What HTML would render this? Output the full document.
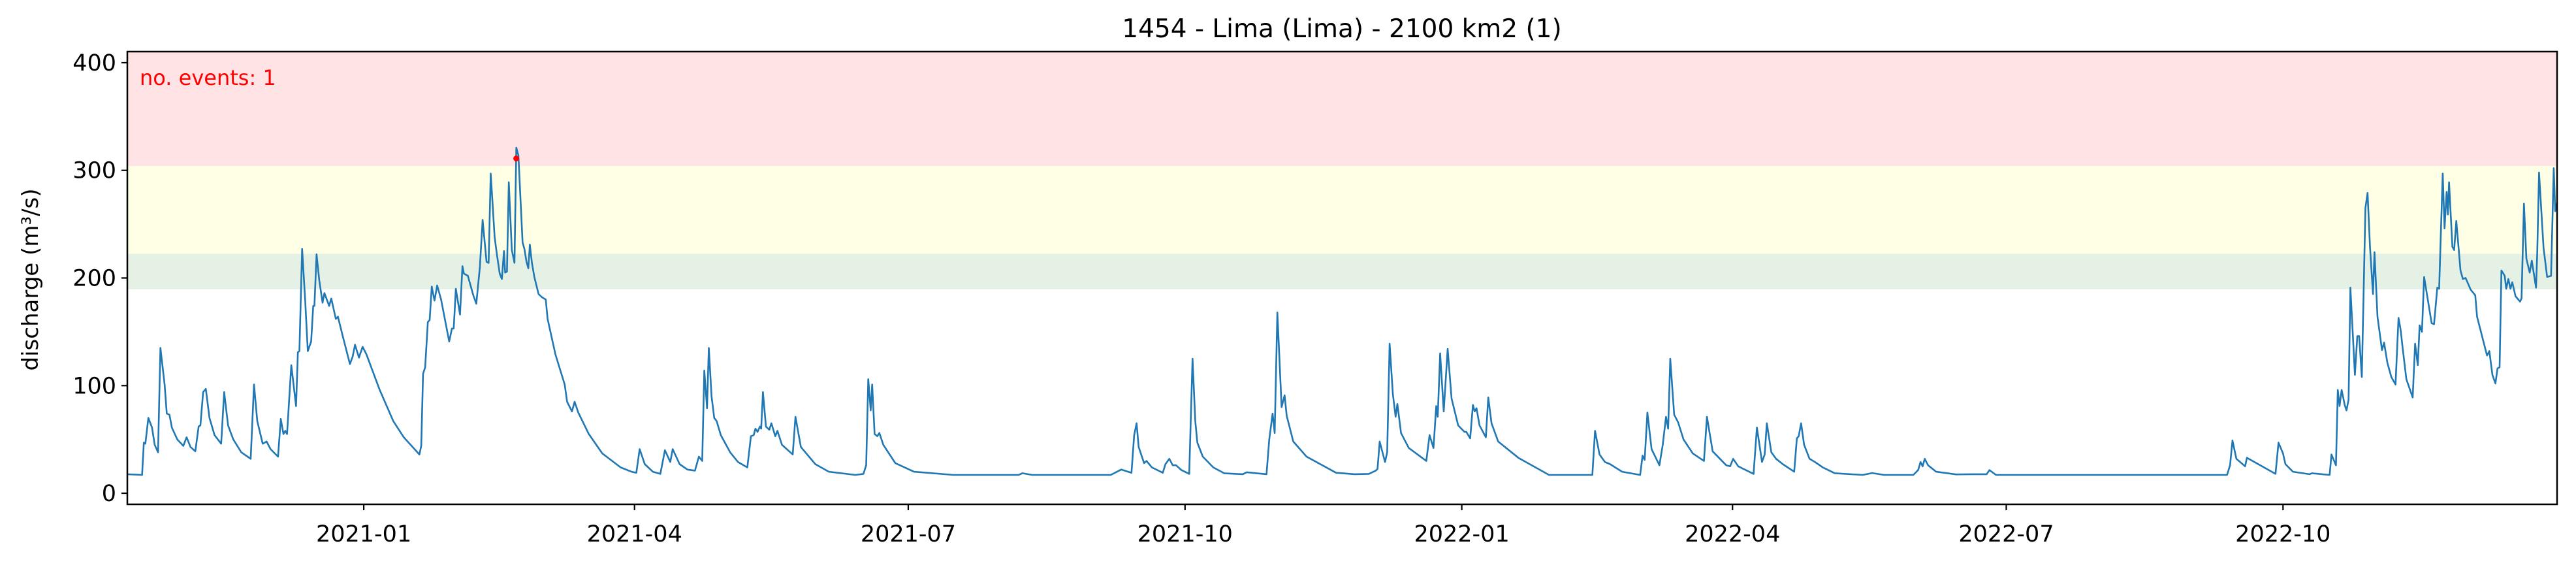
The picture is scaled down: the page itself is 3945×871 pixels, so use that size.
<!DOCTYPE html>
<html><head><meta charset="utf-8"><style>
html,body{margin:0;padding:0;background:#fff;}
svg{display:block;font-family:"DejaVu Sans","Liberation Sans",sans-serif;}
</style></head><body>
<svg id="chart" width="3945" height="871" viewBox="0 0 3945 871" xmlns="http://www.w3.org/2000/svg">
<text x="2055" y="57" font-size="39" text-anchor="middle">1454 - Lima (Lima) - 2100 km2 (1)</text>
<g id="bands"></g>
<g id="series"></g>
<rect x="195" y="79" width="3721" height="693" fill="none" stroke="#000" stroke-width="2.5"/>
<g id="yaxis"></g>
<g id="xaxis"></g>
<text transform="translate(58,428) rotate(-90)" font-size="34" text-anchor="middle">discharge (m³/s)</text>
<text x="214" y="130" font-size="32" fill="#ff0000">no. events: 1</text>
</svg>
<script>
// data: day offsets from 2021-01-01 and discharge values
const days = [-78.6,-73.7,-73.1,-72.6,-71.6,-70.4,-69.5,-68.4,-67.6,-66.2,-65.5,-64.6,-63.8,-62,-60,-58.9,-57.6,-56,-54.9,-54.3,-53.4,-52.5,-51.3,-49.6,-47.4,-46.4,-45.1,-43.4,-40.7,-37.6,-36.5,-35.4,-33.6,-32.3,-31,-28.5,-27.6,-26.7,-26.1,-25.5,-24.1,-22.5,-21.9,-21.4,-20.5,-19.5,-18.6,-17.5,-16.8,-16.4,-15.7,-14.8,-13.7,-13.1,-11.5,-10.8,-9.3,-8.6,-7,-4.6,-3.7,-2.9,-1.6,-0.4,0.9,5.3,9.8,13.3,18.5,19.1,19.7,20.4,21.3,21.9,22.6,23.5,24.4,25.7,28.4,29.3,29.9,30.6,32,32.8,33.3,34.6,36.4,37.4,38.6,39.5,40.8,41.5,42.2,43.5,44.2,45.2,45.9,46.6,47,47.6,48.2,49.2,50.1,50.7,51.4,52.8,53.4,54.1,54.7,55.2,55.9,56.7,58.1,59.3,60.5,61.1,63.7,66.8,67.6,69.2,70.1,71.3,74.8,79.3,85.4,89,90.6,91.7,93.4,96.1,98.6,100.1,101.9,102.7,105,107.6,110.1,111.4,112.5,113.2,114.1,114.7,115.6,116.5,117.3,118.7,121.8,124.4,127.5,128.7,129.6,130.2,130.9,131.7,132.1,132.7,133.7,134.8,135.5,136.8,137.5,139,142.6,143.5,145.3,150.1,154.6,163.4,166.1,167,167.7,168.5,169,169.8,170.7,171.4,172.7,176.7,182.9,196,217.7,218.9,222.2,248.3,251.8,255.2,256.1,256.9,257.6,259.4,260.2,262,265.6,266.5,267.8,268.9,270,271.8,274.4,275.5,276.4,277.1,278.9,282.4,286,290,292.2,293.5,300.1,301,302.1,302.8,303.7,305.1,306.1,306.8,309,313.4,323.2,329.4,334.1,336.4,337,337.7,339.5,340.2,341,342.1,343,343.6,344.8,347.4,353.2,354.3,355.6,356.5,357,357.8,359,360.3,361.6,363.8,365.9,366.5,367.8,368.7,369.3,369.9,370.9,373,373.8,374.9,377.1,383.8,394,408.4,409.3,410.8,412.6,414.3,418.3,424.3,425.1,425.8,426.7,428.1,430.7,431.8,432.9,433.6,434.3,435.6,436.9,438.7,441.8,445.5,446.5,448.4,452.9,454.2,455.2,456.9,462,463.1,464.8,465.7,466.4,467.9,469.5,471.7,475.5,476.4,477,477.8,478.8,480.6,482.4,485,489,498.3,501.4,505.4,515.1,516.7,517.5,518.2,518.9,520,522.7,529.3,534.6,539.5,540.4,542.6,606.2,619.4,620.4,621.2,622.5,625.4,626,635.5,636.5,638,638.8,641.3,646.8,647.6,653.5,654.1,655.6,656.2,656.8,657.5,658.5,659.1,659.8,660.4,661.9,662.7,663.3,664.2,665.4,666.1,666.9,667.9,668.4,669.4,670.9,671.6,672.7,674,675.4,676.4,677.1,677.8,679,681.1,681.9,682.8,683.4,684.2,684.9,687.4,688.2,689.3,689.9,691.1,691.7,692.4,692.8,693.2,694.3,694.9,695.6,697,697.8,698.7,700.4,701.9,702.5,705.8,706.6,707.6,708.6,709.3,710,710.6,711.7,712.2,712.9,713.6,714.2,715.3,716.8,717.3,718.1,718.9,720,720.7,722.1,722.5,723.1,724.6,725.8,727.1,728,728.5,729.1];
const discharge = [17.7,17,47,46,70,61,45,38,135,101,74,73,61,50,44,52,43,39,62,63,94,97,70,54,46,94,63,50,38,32,101,67,46,48,41,34,69,55,58,55,119,81,131,132,227,180,132,141,174,174,222,198,177,186,174,181,162,164,146,120,127,138,126,136,129,96,67,52,36,44,111,117,159,161,192,179,193,180,141,153,153,190,166,211,204,202,184,176,210,254,215,214,297,238,223,204,199,225,205,206,289,226,214,321,314,233,227,215,209,231,214,201,185,182,180,162,129,101,85,76,85,75,55,37,24,20,19,41,27,20,18,40,29,41,27,22,21,34,30,114,79,135,90,70,67,54,38,29,24,53,54,60,57,62,60,94,62,59,65,53,58,45,36,71,43,27,20,17,18,26,106,77,101,55,53,56,45,28,20,17,17,18.6,17,17,22,19,54,65,43,28,30,24,19,27,32,26,26,21.5,18,125,67,47,34,24,18.6,18,17.7,19.5,17.7,50,74,56,168,80,91,72,48,34,19,17.7,18,21,22.6,48,29,38,139,92,71,83,56,42,30,54,42,81,71,130,76,134,88,63,57,57,51,82,76,79,63,52,89,65,48,33,17,17,58,36,29,27,20,17,35,31,75,41,26,45,71,60,125,73,66,50,37,30,71,39,26,25,32,25,18,61,29,36,65,38,32,27,20,51,53,65,45,32,29,24,18.6,17,18.8,17,17,21.5,29,25,32,26,20,17.5,17.7,17.7,21.5,17,17,17,26,49,32,25,33,18,47,37,27,20,17.7,18.6,17,36,26,96,81,96,82,77,87,191,110,146,146,108,265,279,229,185,224,164,133,140,121,108,101,163,152,134,106,89,139,119,156,150,201,158,157,191,190,297,246,280,259,289,229,226,253,207,199,200,189,184,164,128,132,110,102,116,117,207,202,190,199,190,196,183,178,181,269,218,205,216,191,222,298,228,201,202,302,262,270];
const eventDays = [50.7];
const eventValues = [311];
const bandLows = [189.5,222.5,304];
const bandHighs = [222.5,304,410.3];
const bandNames = ['band-low-threshold','band-medium-threshold','band-high-threshold'];
const yTicks = [0,100,200,300,400];
const xTickDays = [0,90,181,273,365,455,546,638];
const xTickLabels = ['2021-01','2021-04','2021-07','2021-10','2022-01','2022-04','2022-07','2022-10'];

const NS = 'http://www.w3.org/2000/svg';
const X0 = 195, X1 = 3916, D0 = -78.6, D1 = 729.1;
const Y0 = 772, Y1 = 79, V0 = -10.3, V1 = 410.3;
function xs(d){ return X0 + (d - D0) / (D1 - D0) * (X1 - X0); }
function ys(v){ return Y0 - (v - V0) / (V1 - V0) * (Y0 - Y1); }
function mk(tag, attrs, parent){ const e = document.createElementNS(NS, tag); for (const k in attrs) e.setAttribute(k, attrs[k]); parent.appendChild(e); return e; }

const bandColors = ['#e5f1e5','#ffffe5','#ffe3e5'];
const bg = document.getElementById('bands');
for (let i = 0; i < bandLows.length; i++) {
  const r = mk('rect', {x: X0, y: ys(bandHighs[i]), width: X1 - X0, height: ys(bandLows[i]) - ys(bandHighs[i]), fill: bandColors[i]}, bg);
  
  
}

const sg = document.getElementById('series');
let d = '';
for (let i = 0; i < days.length; i++) d += (i ? 'L' : 'M') + xs(days[i]).toFixed(1) + ' ' + ys(discharge[i]).toFixed(1);
const line = mk('path', {d: d, fill: 'none', stroke: '#1f77b4', 'stroke-width': 2.6, 'stroke-linejoin': 'round'}, sg);


for (let i = 0; i < eventDays.length; i++) {
  const c = mk('circle', {cx: xs(eventDays[i]), cy: ys(eventValues[i]), r: 4.5, fill: '#ff0000'}, sg);
  
  
}

const ya = document.getElementById('yaxis');
for (let i = 0; i < yTicks.length; i++) {
  const y = ys(yTicks[i]);
  const t = mk('line', {x1: X0 - 9, x2: X0, y1: y, y2: y, stroke: '#000', 'stroke-width': 2.2}, ya);
  
  
  const l = mk('text', {x: X0 - 17, y: y + 12, 'font-size': 35, 'text-anchor': 'end'}, ya);
  l.textContent = String(yTicks[i]);
  
  
}
const xa = document.getElementById('xaxis');
for (let i = 0; i < xTickDays.length; i++) {
  const x = xs(xTickDays[i]);
  const t = mk('line', {x1: x, x2: x, y1: Y0, y2: Y0 + 9, stroke: '#000', 'stroke-width': 2.2}, xa);
  
  
  const l = mk('text', {x: x, y: 829, 'font-size': 35, 'text-anchor': 'middle'}, xa);
  l.textContent = xTickLabels[i];
  
  
}
</script>
</body></html>
